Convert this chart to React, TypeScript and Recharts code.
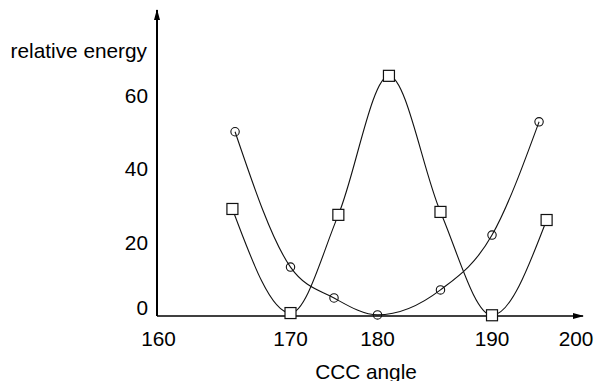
import React from "react";
import { LineChart, Line, XAxis, YAxis } from "recharts";

// circles
const CIRCLE_ANGLE = [165.8, 170, 175, 180, 185.5, 190, 195.6];
const CIRCLE_ENERGY = [50.1, 13.3, 4.9, 0.3, 7.1, 22, 52.8];

// squares
const SQUARE_ANGLE = [165.6, 170, 175.5, 181, 185.5, 190, 196.5];
const SQUARE_ENERGY = [29.1, 0.8, 27.5, 65.3, 28.3, 0.2, 26.1];

const X_TICKS = [160, 170, 180, 190, 200];
const Y_TICKS = [0, 20, 40, 60];

// the original drawing does not space the angle ticks evenly,
// so the x axis is piecewise linear between the labelled ticks
const X_TICK_FRAC = [0.0035, 0.3134, 0.5176, 0.7864, 0.9836];

const FONT = "'Liberation Sans', Arial, sans-serif";
const FONT_SIZE = 20.8;
const INK = "#111";

function makeAngleScale(dom: number[] = [160, 200], rng: number[] = [0, 1]): any {
  let d = dom.slice();
  let r = rng.slice();
  const s: any = (v: number) => {
    let i = 0;
    while (i < X_TICKS.length - 2 && v > X_TICKS[i + 1]) i++;
    const t = (v - X_TICKS[i]) / (X_TICKS[i + 1] - X_TICKS[i]);
    const f = X_TICK_FRAC[i] + t * (X_TICK_FRAC[i + 1] - X_TICK_FRAC[i]);
    return r[0] + f * (r[1] - r[0]);
  };
  s.domain = (x?: number[]) => (x === undefined ? d.slice() : ((d = x.slice()), s));
  s.range = (x?: number[]) => (x === undefined ? r.slice() : ((r = x.slice()), s));
  s.copy = () => makeAngleScale(d, r);
  s.ticks = () => X_TICKS.slice();
  s.tickFormat = () => (v: number) => String(v);
  s.invert = (px: number) => {
    const f = (px - r[0]) / (r[1] - r[0]);
    let i = 0;
    while (i < X_TICK_FRAC.length - 2 && f > X_TICK_FRAC[i + 1]) i++;
    const t = (f - X_TICK_FRAC[i]) / (X_TICK_FRAC[i + 1] - X_TICK_FRAC[i]);
    return X_TICKS[i] + t * (X_TICKS[i + 1] - X_TICKS[i]);
  };
  return s;
}

const circleData = CIRCLE_ANGLE.map((a, i) => ({ angle: a, energy: CIRCLE_ENERGY[i] }));
const squareData = SQUARE_ANGLE.map((a, i) => ({ angle: a, energy: SQUARE_ENERGY[i] }));

const SquareDot = (props: any) => {
  const { cx, cy, index } = props;
  if (cx == null || cy == null) return <g key={`sq-${index}`} />;
  return (
    <rect key={`sq-${index}`} x={cx - 5.5} y={cy - 5.5} width={11} height={11}
      fill="#fff" stroke={INK} strokeWidth={1.2} />
  );
};

const CircleDot = (props: any) => {
  const { cx, cy, index } = props;
  if (cx == null || cy == null) return <g key={`ci-${index}`} />;
  return <circle key={`ci-${index}`} cx={cx} cy={cy} r={4.2} fill="none" stroke={INK} strokeWidth={1.1} />;
};

const XTick = (props: any) => {
  const { x, y, payload } = props;
  return (
    <text x={x} y={y + 14} textAnchor="middle" dominantBaseline="central"
      fontSize={FONT_SIZE} fontFamily={FONT} fill="#000">
      {payload.value}
    </text>
  );
};

const YTick = (props: any) => {
  const { x, y, payload } = props;
  return (
    <text x={x - 1} y={payload.value === 0 ? y - 9 : y} textAnchor="end" dominantBaseline="central"
      fontSize={FONT_SIZE} fontFamily={FONT} fill="#000">
      {payload.value}
    </text>
  );
};

export default function App() {
  const angleScale = makeAngleScale();
  return (
    <div style={{ position: "absolute", left: 0, top: 0, width: 595, height: 381, background: "#fff" }}>
      <LineChart width={595} height={381} margin={{ top: 10, right: 12, bottom: 0, left: 0 }}>
        <defs>
          <marker id="arrowHead" viewBox="0 0 11 6" refX="10" refY="3" markerWidth="11" markerHeight="6"
            orient="auto-start-reverse" markerUnits="userSpaceOnUse">
            <path d="M0,0 L11,3 L0,6 z" fill="#000" />
          </marker>
        </defs>
        <XAxis
          dataKey="angle"
          type="number"
          scale={angleScale}
          domain={[160, 200.8]}
          ticks={X_TICKS}
          height={65}
          tickLine={false}
          axisLine={{ stroke: "#000", strokeWidth: 1.5, markerEnd: "url(#arrowHead)" }}
          tick={<XTick />}
          allowDuplicatedCategory={false}
        />
        <YAxis
          dataKey="energy"
          type="number"
          domain={[0, 83.2]}
          ticks={Y_TICKS}
          width={157}
          tickLine={false}
          axisLine={{ stroke: "#000", strokeWidth: 2, markerStart: "url(#arrowHead)" }}
          tick={<YTick />}
        />
        <Line data={circleData} dataKey="energy" type="monotone" stroke={INK} strokeWidth={1.1}
          dot={CircleDot} activeDot={false} isAnimationActive={false} />
        <Line data={squareData} dataKey="energy" type="monotone" stroke={INK} strokeWidth={1.1}
          dot={SquareDot} activeDot={false} isAnimationActive={false} />
        <text x={147} y={50} textAnchor="end" dominantBaseline="central" fontSize={FONT_SIZE} fontFamily={FONT} fill="#000">
          relative energy
        </text>
        <text x={366} y={371} textAnchor="middle" dominantBaseline="central" fontSize={FONT_SIZE} fontFamily={FONT} fill="#000">
          CCC angle
        </text>
      </LineChart>
    </div>
  );
}
